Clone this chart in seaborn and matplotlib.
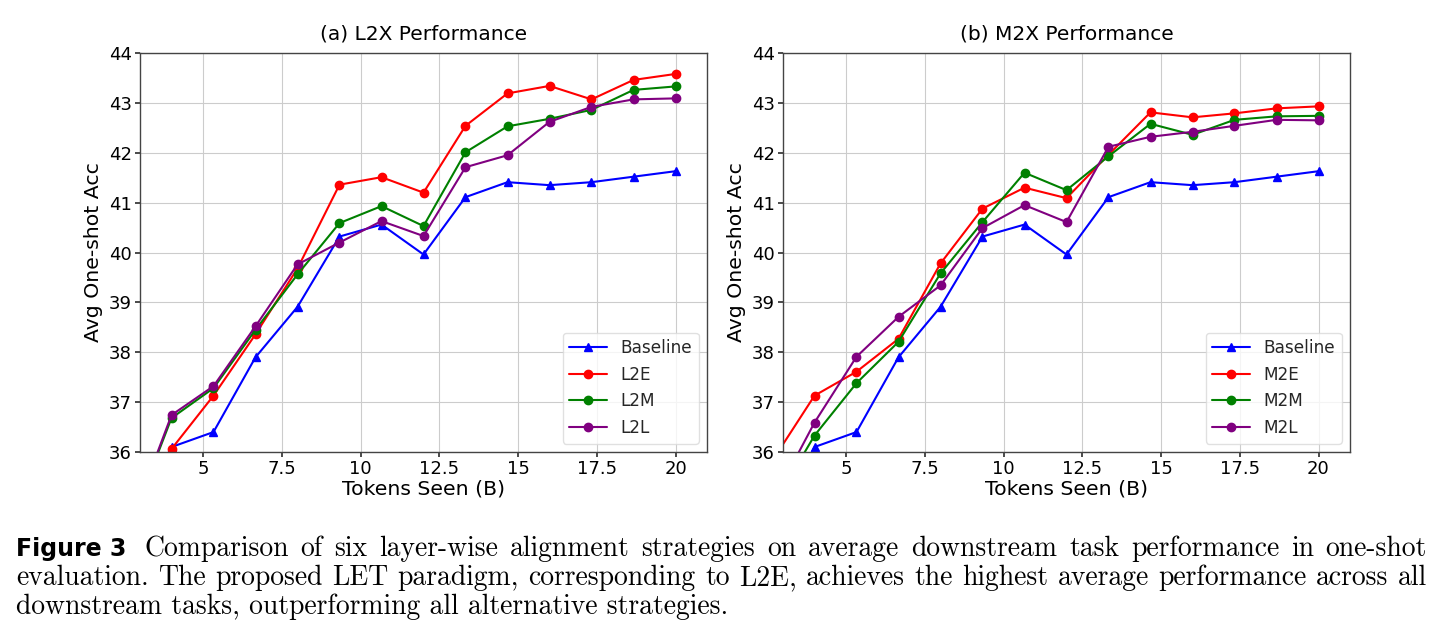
import matplotlib
matplotlib.use("Agg")
import matplotlib.pyplot as plt
import seaborn as sns
from matplotlib.ticker import FuncFormatter

tokens = [2.667, 4.0, 5.333, 6.667, 8.0, 9.333, 10.667, 12.0, 13.333, 14.667, 16.0, 17.333, 18.667, 20.0]

baseline = [34.5, 36.10, 36.40, 37.90, 38.91, 40.32, 40.56, 39.96, 41.11, 41.41, 41.35, 41.41, 41.52, 41.63]

l2e = [34.4, 36.06, 37.13, 38.36, 39.68, 41.36, 41.51, 41.20, 42.54, 43.19, 43.34, 43.07, 43.46, 43.58]
l2m = [34.5, 36.68, 37.28, 38.45, 39.56, 40.59, 40.93, 40.53, 42.01, 42.53, 42.68, 42.86, 43.26, 43.33]
l2l = [34.5, 36.74, 37.32, 38.52, 39.76, 40.20, 40.63, 40.33, 41.71, 41.95, 42.62, 42.92, 43.07, 43.09]

m2e = [35.83, 37.13, 37.61, 38.27, 39.78, 40.88, 41.30, 41.09, 41.96, 42.81, 42.71, 42.79, 42.89, 42.93]
m2m = [34.9, 36.33, 37.38, 38.21, 39.58, 40.61, 41.60, 41.25, 41.93, 42.58, 42.36, 42.66, 42.73, 42.74]
m2l = [35.0, 36.59, 37.91, 38.71, 39.34, 40.49, 40.95, 40.61, 42.12, 42.32, 42.42, 42.54, 42.66, 42.65]

left_labels = ["Baseline", "L2E", "L2M", "L2L"]
right_labels = ["Baseline", "M2E", "M2M", "M2L"]
titles = ["(a) L2X Performance", "(b) M2X Performance"]
x_ticks = [5, 7.5, 10, 12.5, 15, 17.5, 20]
y_ticks = [36, 37, 38, 39, 40, 41, 42, 43, 44]
colors = ["blue", "red", "green", "purple"]
markers = ["^", "o", "o", "o"]

caption_head = "Figure 3"
caption_lines = [
    "Comparison of six layer-wise alignment strategies on average downstream task performance in one-shot",
    "evaluation. The proposed LET paradigm, corresponding to L2E, achieves the highest average performance across all",
    "downstream tasks, outperforming all alternative strategies.",
]

sns.set_theme(style="ticks")
plt.rcParams["font.family"] = ["DejaVu Sans"]

W, H = 1443, 642
fig = plt.figure(figsize=(W / 100, H / 100), dpi=100)
ax1 = fig.add_axes([140 / W, 1 - 452 / H, 567 / W, 399 / H])
ax2 = fig.add_axes([783 / W, 1 - 452 / H, 567 / W, 399 / H])

for ax, series, labels, title in [
    (ax1, [baseline, l2e, l2m, l2l], left_labels, titles[0]),
    (ax2, [baseline, m2e, m2m, m2l], right_labels, titles[1]),
]:
    for ys, lab, c, m in zip(series, labels, colors, markers):
        sns.lineplot(x=tokens, y=ys, ax=ax, color=c, marker=m, markersize=6,
                     markeredgecolor=c, markeredgewidth=1, linewidth=1.5, label=lab)
    ax.set_xlim(3, 21)
    ax.set_ylim(36, 44)
    ax.set_xticks(x_ticks)
    ax.set_yticks(y_ticks)
    ax.xaxis.set_major_formatter(FuncFormatter(lambda v, p: f"{v:g}"))
    ax.tick_params(labelsize=13, length=3.5, pad=2.5, color="#333333", labelcolor="black")
    ax.grid(True, color="#cccccc", linewidth=0.8)
    for s in ax.spines.values():
        s.set_color("#444444")
        s.set_linewidth(1.0)
    ax.set_xlabel("Tokens Seen (B)", fontsize=14.7, labelpad=1, color="black")
    ax.set_ylabel("Avg One-shot Acc", fontsize=14.7, labelpad=4, color="black")
    ax.set_title(title, fontsize=14.5, pad=10, color="black")
    leg = ax.legend(loc="lower right", fontsize=12.2, frameon=True, handlelength=2.2)
    leg.get_frame().set_edgecolor("0.85")

renderer = fig.canvas.get_renderer()
cap_kw = dict(fontsize=19.9, family=["cmr10", "DejaVu Serif"], va="baseline", ha="left",
              color="black")


def place_justified(line, x0, x1, y):
    words = line.split(" ")
    texts = [fig.text(0, 1 - y / H, w, **cap_kw) for w in words]
    widths = [t.get_window_extent(renderer).width for t in texts]
    gap = (x1 - x0 - sum(widths)) / (len(words) - 1)
    x = x0
    for t, w in zip(texts, widths):
        t.set_x(x / W)
        x += w + gap


fig.text(16 / W, 1 - 556 / H, caption_head, fontsize=17, fontweight="bold",
         family=["DejaVu Sans"], va="baseline", ha="left", color="black")
place_justified(caption_lines[0], 144, 1427, 556)
place_justified(caption_lines[1], 16, 1427, 585)
fig.text(16 / W, 1 - 614 / H, caption_lines[2], **cap_kw)

fig.savefig("out.png", dpi=100)
